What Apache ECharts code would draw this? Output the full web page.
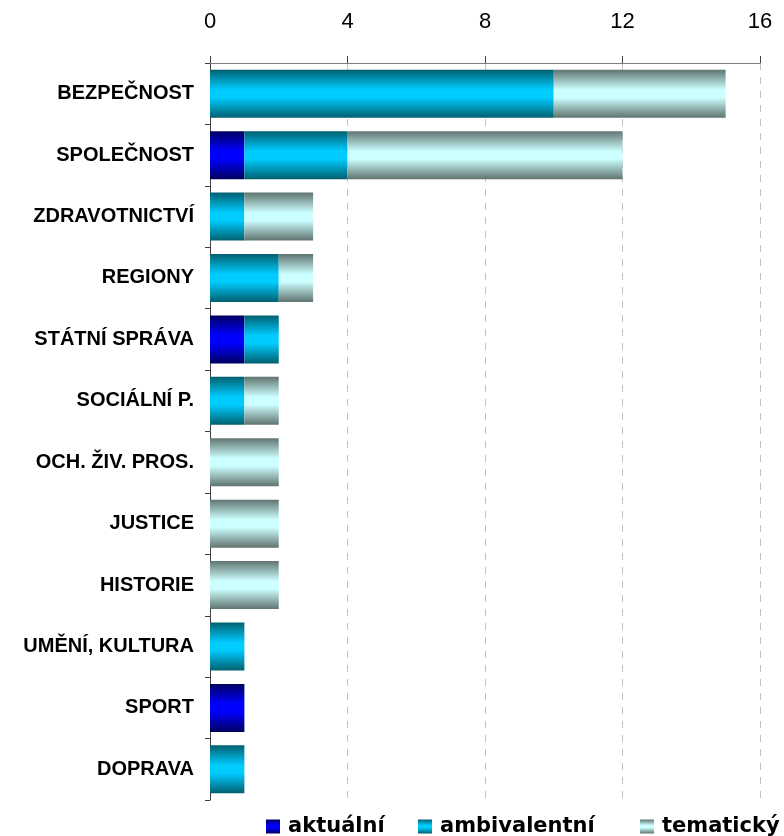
<!DOCTYPE html>
<html>
<head>
<meta charset="utf-8">
<script src="https://cdn.jsdelivr.net/npm/echarts@6/dist/echarts.min.js"></script>
<style>
html,body{margin:0;padding:0;background:#fff;}
#chart{width:784px;height:836px;}
</style>
</head>
<body>
<div id="chart"></div>
<script>
const categories = ['BEZPEČNOST','SPOLEČNOST','ZDRAVOTNICTVÍ','REGIONY','STÁTNÍ SPRÁVA','SOCIÁLNÍ P.','OCH. ŽIV. PROS.','JUSTICE','HISTORIE','UMĚNÍ, KULTURA','SPORT','DOPRAVA'];
const seriesNames  = ['aktuální', 'ambivalentní', 'tematický'];
const aktualni     = [0, 1, 0, 0, 1, 0, 0, 0, 0, 0, 1, 0];
const ambivalentni = [10, 3, 1, 2, 1, 1, 0, 0, 0, 1, 0, 1];
const tematicky    = [5, 8, 2, 1, 0, 1, 2, 2, 2, 0, 0, 0];
const xTicks = [0, 4, 8, 12, 16];

function grad(edge, mid) {
  return new echarts.graphic.LinearGradient(0, 0, 0, 1, [
    {offset: 0, color: edge},
    {offset: 0.42, color: mid},
    {offset: 0.58, color: mid},
    {offset: 1, color: edge}
  ]);
}

const chart = echarts.init(document.getElementById('chart'));
const mk = (name, data, color) => ({
  name: name,
  type: 'bar',
  stack: 'total',
  barWidth: 48,
  data: data.map(v => v === 0 ? null : v),
  itemStyle: {color: color},
  emphasis: {disabled: true}
});

const legendLefts = [261, 413, 635];
const legends = seriesNames.map((n, i) => ({
  data: [n],
  left: legendLefts[i],
  top: 811,
  itemWidth: 14,
  itemHeight: 14,
  icon: 'rect',
  selectedMode: false,
  textStyle: {color: '#000', fontFamily: 'DejaVu Sans', fontWeight: 'bold', fontSize: 21, padding: [0, 0, 0, 3]}
}));

chart.setOption({
  animation: false,
  grid: {left: 210, right: 24, top: 63, bottom: 36, containLabel: false},
  xAxis: {
    type: 'value',
    position: 'top',
    min: xTicks[0],
    max: xTicks[xTicks.length - 1],
    interval: 4,
    axisLine: {show: true, lineStyle: {color: '#808080', width: 1}},
    axisTick: {show: true, length: 7, lineStyle: {color: '#404040'}},
    axisLabel: {margin: 30, color: '#000', fontFamily: 'Liberation Sans', fontSize: 22},
    splitLine: {show: true, lineStyle: {color: '#c0c0c0', type: [7, 7], width: 1}}
  },
  yAxis: {
    type: 'category',
    data: categories,
    inverse: true,
    axisLine: {show: true, lineStyle: {color: '#404040', width: 1}},
    axisTick: {show: true, length: 5, lineStyle: {color: '#404040'}},
    axisLabel: {margin: 16, color: '#000', fontFamily: 'Liberation Sans', fontWeight: 'bold', fontSize: 20}
  },
  legend: legends,
  series: [
    mk(seriesNames[0], aktualni, grad('#000060', '#0000ff')),
    mk(seriesNames[1], ambivalentni, grad('#006070', '#00ccff')),
    mk(seriesNames[2], tematicky, grad('#607470', '#ccffff'))
  ]
});
</script>
</body>
</html>
